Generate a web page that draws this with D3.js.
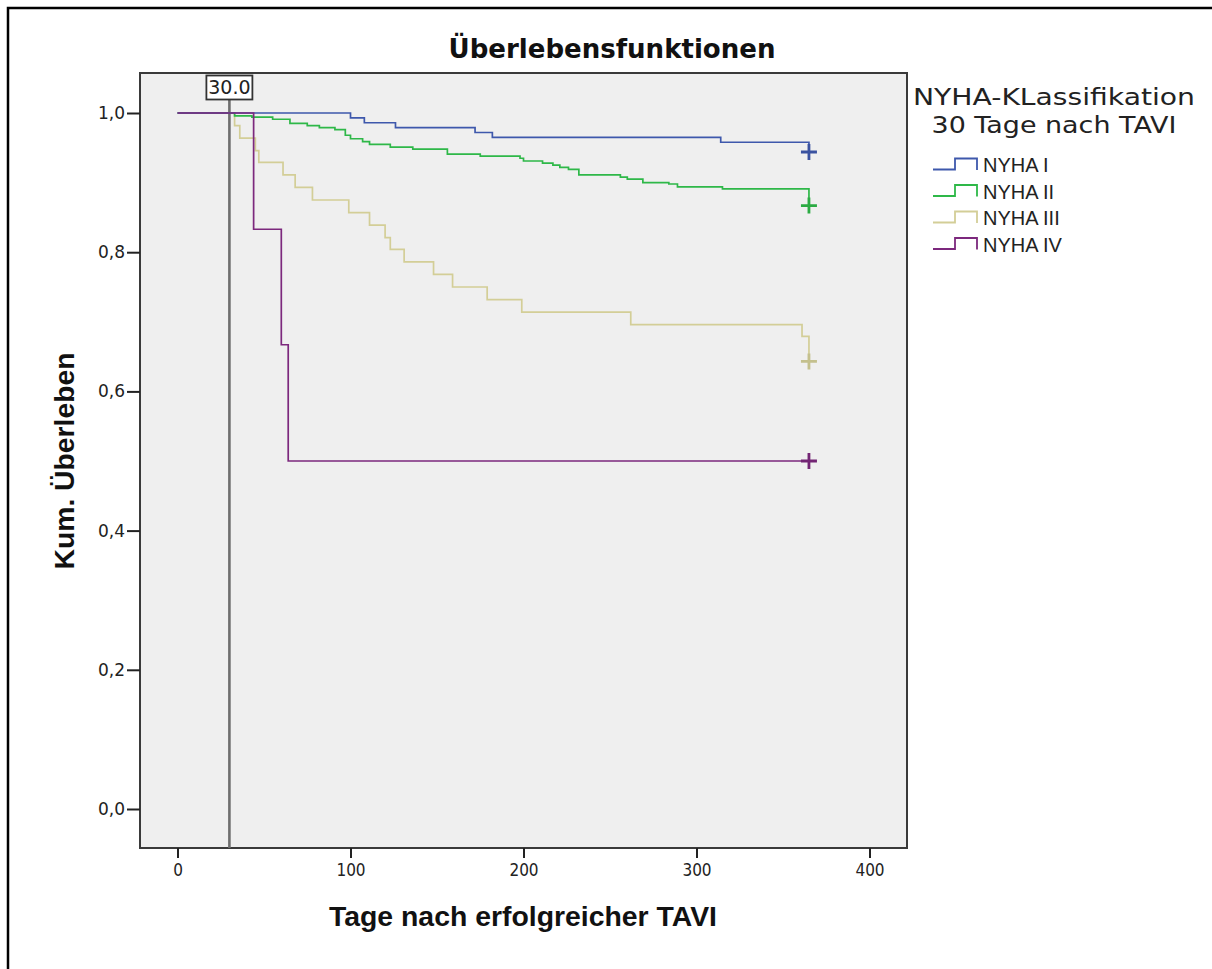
<!DOCTYPE html>
<html>
<head>
<meta charset="utf-8">
<script src="https://cdn.jsdelivr.net/npm/d3@7"></script>
<style>
  body { margin: 0; background: #fff; }
  svg { display: block; }
</style>
</head>
<body>
<script>
// Kaplan-Meier Daten: Zeitpunkte der Stufen und Überleben danach
var seriesNames = ["NYHA I", "NYHA II", "NYHA III", "NYHA IV"];
var seriesColors = ["#3e58ac", "#2eb848", "#d3ce97", "#7c287d"];

var nyha1Days = [100, 108, 126, 172, 182, 314, 365];
var nyha1Surv = [0.993, 0.986, 0.979, 0.972, 0.965, 0.958, 0.944];

var nyha2Days = [33, 43, 55, 65, 75, 82, 91, 97, 100, 107, 111, 123, 136, 156, 175, 198, 200, 211, 217, 221, 226, 232, 256, 260, 269, 284, 289, 315, 365];
var nyha2Surv = [0.996, 0.994, 0.991, 0.985, 0.982, 0.979, 0.976, 0.968, 0.963, 0.959, 0.955, 0.951, 0.948, 0.941, 0.938, 0.935, 0.931, 0.928, 0.925, 0.922, 0.919, 0.911, 0.908, 0.905, 0.900, 0.898, 0.894, 0.891, 0.867];

var nyha3Days = [33, 36, 45, 47, 61, 68, 78, 99, 111, 120, 123, 131, 148, 159, 179, 199, 262, 361, 365];
var nyha3Surv = [0.982, 0.964, 0.946, 0.929, 0.911, 0.893, 0.875, 0.857, 0.839, 0.821, 0.804, 0.786, 0.768, 0.750, 0.732, 0.714, 0.696, 0.679, 0.643];

var nyha4Days = [44, 60, 64, 365];
var nyha4Surv = [0.833, 0.667, 0.5, 0.5];

var xTicks = [0, 100, 200, 300, 400];
var yTicks = [0, 0.2, 0.4, 0.6, 0.8, 1.0];
var refDay = 30;

var w = 1212, h = 969;

var svg = d3.select("body").append("svg")
    .attr("width", w)
    .attr("height", h);

// äusserer Rahmen (nur oben und links sichtbar, Rest abgeschnitten)
svg.append("path")
    .attr("d", "M8," + h + "V8H" + w)
    .attr("fill", "none")
    .attr("stroke", "#000")
    .attr("stroke-width", 2.5);

var plot = {left: 140, top: 73, right: 907, bottom: 848};

var xScale = d3.scaleLinear().domain([0, 400]).range([177.5, 869.5]);
var yScale = d3.scaleLinear().domain([0, 1]).range([809, 113]);

svg.append("rect")
    .attr("x", plot.left).attr("y", plot.top)
    .attr("width", plot.right - plot.left)
    .attr("height", plot.bottom - plot.top)
    .attr("fill", "#efefef")
    .attr("stroke", "#3a3a3a")
    .attr("stroke-width", 2);

// Achsen
var xAxis = d3.axisBottom(xScale).tickValues(xTicks).tickSize(10).tickSizeOuter(0)
    .tickFormat(d3.format("d"));
var gx = svg.append("g")
    .attr("transform", "translate(0," + plot.bottom + ")")
    .call(xAxis);
gx.select(".domain").remove();
gx.selectAll("line").attr("stroke", "#222").attr("stroke-width", 2);
gx.selectAll("text")
    .attr("y", 16)
    .attr("dy", "0.71em")
    .attr("fill", "#222")
    .style("font-family", "'DejaVu Sans Condensed', 'DejaVu Sans', sans-serif")
    .style("font-size", "17px");

var yAxis = d3.axisLeft(yScale).tickValues(yTicks).tickSize(13).tickSizeOuter(0)
    .tickFormat(function (d) { return d3.format(".1f")(d).replace(".", ","); });
var gy = svg.append("g")
    .attr("transform", "translate(" + plot.left + ",0)")
    .call(yAxis);
gy.select(".domain").remove();
gy.selectAll("line").attr("stroke", "#222").attr("stroke-width", 2);
gy.selectAll("text")
    .attr("x", -15)
    .attr("fill", "#222")
    .style("font-family", "'DejaVu Sans', sans-serif")
    .style("font-size", "17px");

// Referenzlinie bei 30 Tagen
svg.append("line")
    .attr("x1", xScale(refDay)).attr("x2", xScale(refDay))
    .attr("y1", 99).attr("y2", plot.bottom)
    .attr("stroke", "#6e6e6e")
    .attr("stroke-width", 2.6);

svg.append("rect")
    .attr("x", xScale(refDay) - 23).attr("y", 75.5)
    .attr("width", 46).attr("height", 24)
    .attr("fill", "#fff")
    .attr("stroke", "#333")
    .attr("stroke-width", 1.8);
svg.append("text")
    .attr("x", xScale(refDay)).attr("y", 94)
    .attr("text-anchor", "middle")
    .style("font-family", "'DejaVu Sans', sans-serif")
    .style("font-size", "19px")
    .attr("fill", "#222")
    .text(d3.format(".1f")(refDay));

// Kurven
var allDays = [nyha1Days, nyha2Days, nyha3Days, nyha4Days];
var allSurv = [nyha1Surv, nyha2Surv, nyha3Surv, nyha4Surv];

var curves = allDays.map(function (days, i) {
    var pts = [[0, 1]];
    days.forEach(function (t, j) { pts.push([t, allSurv[i][j]]); });
    return pts;
});

var line = d3.line()
    .x(function (d) { return xScale(d[0]); })
    .y(function (d) { return yScale(d[1]); })
    .curve(d3.curveStepAfter);

// Reihenfolge: III, II, I, IV (IV liegt oben)
[2, 1, 0, 3].forEach(function (i) {
    svg.append("path")
        .datum(curves[i])
        .attr("d", line)
        .attr("fill", "none")
        .attr("stroke", seriesColors[i])
        .attr("stroke-width", 1.7);

    var last = curves[i][curves[i].length - 1];
    var cx = xScale(last[0]), cy = yScale(last[1]);
    svg.append("path")
        .attr("d", "M" + (cx - 8) + "," + cy + "H" + (cx + 8) + "M" + cx + "," + (cy - 8) + "V" + (cy + 8))
        .attr("stroke", d3.color(seriesColors[i]).darker(0.2))
        .attr("stroke-width", 2.8)
        .attr("fill", "none");
});

// Titel
svg.append("text")
    .attr("x", 612).attr("y", 58)
    .attr("text-anchor", "middle")
    .attr("textLength", 327)
    .attr("lengthAdjust", "spacingAndGlyphs")
    .style("font-family", "'DejaVu Sans', sans-serif")
    .style("font-weight", "bold")
    .style("font-size", "26px")
    .attr("fill", "#111")
    .text("Überlebensfunktionen");

svg.append("text")
    .attr("x", 523).attr("y", 926)
    .attr("text-anchor", "middle")
    .attr("textLength", 388)
    .attr("lengthAdjust", "spacingAndGlyphs")
    .style("font-family", "'Liberation Sans Narrow', 'Liberation Sans', sans-serif")
    .style("font-weight", "bold")
    .style("font-size", "28px")
    .attr("fill", "#111")
    .text("Tage nach erfolgreicher TAVI");

svg.append("text")
    .attr("transform", "translate(74,461) rotate(-90)")
    .attr("text-anchor", "middle")
    .attr("textLength", 217)
    .attr("lengthAdjust", "spacingAndGlyphs")
    .style("font-family", "'Liberation Sans Narrow', 'Liberation Sans', sans-serif")
    .style("font-weight", "bold")
    .style("font-size", "28px")
    .attr("fill", "#111")
    .text("Kum. Überleben");

// Legende
var legendTitle = ["NYHA-KLassifikation", "30 Tage nach TAVI"];
var legendTitleW = [282, 245];
legendTitle.forEach(function (t, i) {
    svg.append("text")
        .attr("x", 1054).attr("y", 105 + i * 28)
        .attr("text-anchor", "middle")
        .attr("textLength", legendTitleW[i])
        .attr("lengthAdjust", "spacingAndGlyphs")
        .style("font-family", "'DejaVu Sans', sans-serif")
        .style("font-size", "23px")
        .attr("fill", "#222")
        .text(t);
});

var legend = svg.selectAll(".legend")
    .data(seriesNames)
    .enter().append("g")
    .attr("class", "legend")
    .attr("transform", function (d, i) { return "translate(0," + (i * 26.5) + ")"; });

legend.append("path")
    .attr("d", "M933,169.5H955V158.5H977V170")
    .attr("fill", "none")
    .attr("stroke", function (d, i) { return seriesColors[i]; })
    .attr("stroke-width", 1.8);

legend.append("text")
    .attr("x", 983).attr("y", 172)
    .style("font-family", "'Liberation Sans', Arial, sans-serif")
    .style("font-size", "20px")
    .attr("fill", "#222")
    .text(function (d) { return d; });
</script>
</body>
</html>
